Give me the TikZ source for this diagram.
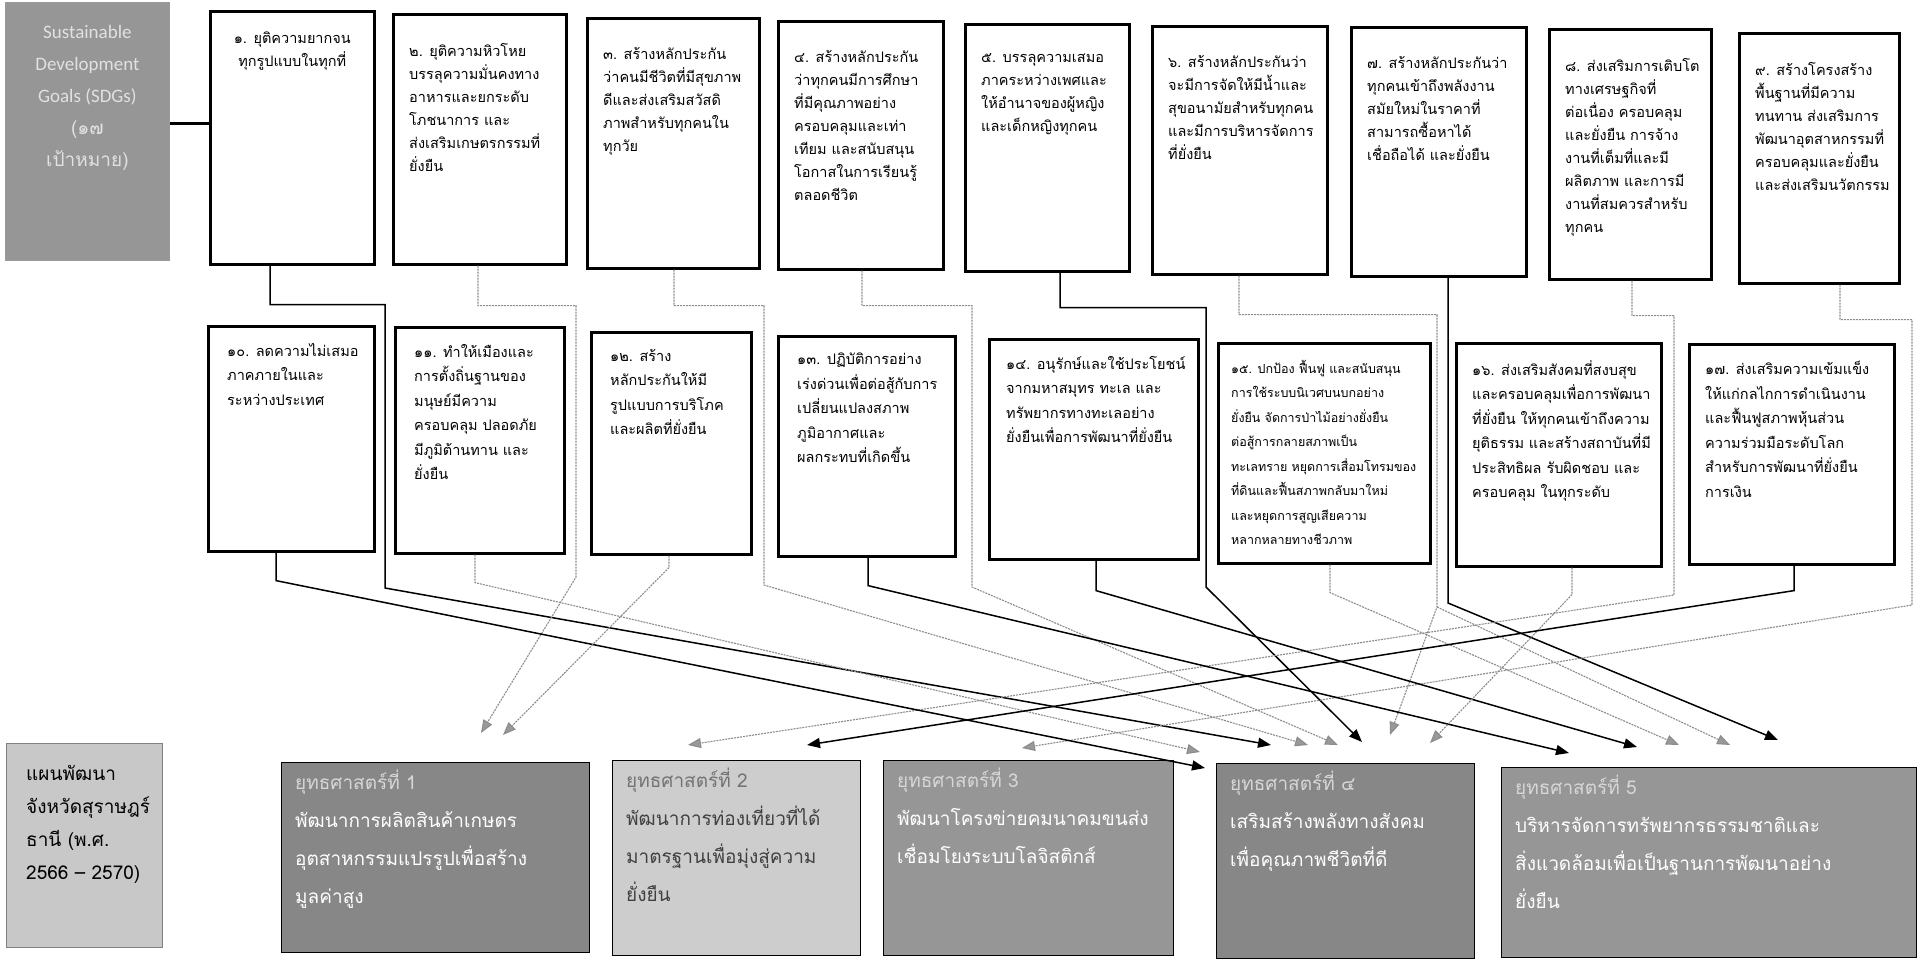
\documentclass[tikz,border=0pt]{standalone}
\usepackage{fontspec}
\newfontfamily\thai[Script=Thai]{Loma}
\newfontfamily\latn{Carlito}
\usetikzlibrary{arrows.meta,calc}
\definecolor{sdgfill}{RGB}{150,150,150}
\definecolor{sdgtext}{RGB}{225,225,225}
\definecolor{planfill}{RGB}{200,200,200}
\definecolor{sdark}{RGB}{135,135,135}
\definecolor{smid}{RGB}{150,150,150}
\definecolor{slight}{RGB}{205,205,205}
\definecolor{headlt}{RGB}{215,215,215}
\begin{document}
\begin{tikzpicture}[x=1pt,y=-1pt,
  goal/.style={draw=black, line width=2.6pt, fill=white, anchor=north west, inner sep=0pt},
  gtxt/.style={anchor=north west, inner sep=0pt, align=left, font=\thai\fontsize{14.5}{23}\selectfont},
  gtxtb/.style={anchor=north west, inner sep=0pt, align=left, font=\thai\fontsize{14.5}{24.5}\selectfont},
  strat/.style={draw=black, line width=1.2pt, anchor=north west, inner sep=0pt},
  stxt/.style={anchor=north west, inner sep=0pt, align=left, text=white, font=\thai\fontsize{19}{38}\selectfont},
  solidc/.style={line width=1.5pt, draw=black, -{Triangle[length=13pt,width=10pt]}},
  dotc/.style={line width=1.1pt, draw=black!45, dash pattern=on 2pt off 1pt, -{Triangle[length=13pt,width=10pt,fill=black!40]}}
]
\useasboundingbox (0,0) rectangle (1924,962);
\fill[white] (0,0) rectangle (1924,962);

% SDG title box
\node[draw=black!40, line width=0.8pt, fill=sdgfill, anchor=north west, minimum width=164pt, minimum height=258pt, inner sep=0pt] (sdg) at (5,2) {};
\node[align=center, text=sdgtext, inner sep=0pt, font=\latn\fontsize{19}{32}\selectfont] (sdgt) at ($(sdg.north)+(0,96)$) {Sustainable\\Development\\Goals (SDGs)\\{\thai (๑๗}\\{\thai เป้าหมาย)}};

% top row goal boxes
\node[goal, minimum width=164pt, minimum height=253pt] (b1) at (209,10) {};
\node[goal, minimum width=173pt, minimum height=250pt] (b2) at (392,13) {};
\node[goal, minimum width=172pt, minimum height=250pt] (b3) at (586,17) {};
\node[goal, minimum width=165pt, minimum height=248pt] (b4) at (777,20) {};
\node[goal, minimum width=164pt, minimum height=247pt] (b5) at (964,23) {};
\node[goal, minimum width=175pt, minimum height=248pt] (b6) at (1151,25) {};
\node[goal, minimum width=175pt, minimum height=249pt] (b7) at (1350,26) {};
\node[goal, minimum width=162pt, minimum height=250pt] (b8) at (1548,28) {};
\node[goal, minimum width=160pt, minimum height=250pt] (b9) at (1738,32) {};

\node[anchor=north, inner sep=0pt, align=center, font=\thai\fontsize{14.5}{23}\selectfont] (t1) at ($(b1.north)+(0,22)$) {๑. ยุติความยากจน\\ทุกรูปแบบในทุกที่};
\node[gtxt] (t2) at ($(b2.north west)+(17,30)$) {๒. ยุติความหิวโหย\\บรรลุความมั่นคงทาง\\อาหารและยกระดับ\\โภชนาการ และ\\ส่งเสริมเกษตรกรรมที่\\ยั่งยืน};
\node[gtxt] (t3) at ($(b3.north west)+(17,30)$) {๓. สร้างหลักประกัน\\ว่าคนมีชีวิตที่มีสุขภาพ\\ดีและส่งเสริมสวัสดิ\\ภาพสำหรับทุกคนใน\\ทุกวัย};
\node[gtxt] (t4) at ($(b4.north west)+(17,30)$) {๔. สร้างหลักประกัน\\ว่าทุกคนมีการศึกษา\\ที่มีคุณภาพอย่าง\\ครอบคลุมและเท่า\\เทียม และสนับสนุน\\โอกาสในการเรียนรู้\\ตลอดชีวิต};
\node[gtxt] (t5) at ($(b5.north west)+(17,30)$) {๕. บรรลุความเสมอ\\ภาคระหว่างเพศและ\\ให้อำนาจของผู้หญิง\\และเด็กหญิงทุกคน};
\node[gtxt] (t6) at ($(b6.north west)+(17,30)$) {๖. สร้างหลักประกันว่า\\จะมีการจัดให้มีน้ำและ\\สุขอนามัยสำหรับทุกคน\\และมีการบริหารจัดการ\\ที่ยั่งยืน};
\node[gtxt] (t7) at ($(b7.north west)+(17,30)$) {๗. สร้างหลักประกันว่า\\ทุกคนเข้าถึงพลังงาน\\สมัยใหม่ในราคาที่\\สามารถซื้อหาได้\\เชื่อถือได้ และยั่งยืน};
\node[gtxt] (t8) at ($(b8.north west)+(17,30)$) {๘. ส่งเสริมการเติบโต\\ทางเศรษฐกิจที่\\ต่อเนื่อง ครอบคลุม\\และยั่งยืน การจ้าง\\งานที่เต็มที่และมี\\ผลิตภาพ และการมี\\งานที่สมควรสำหรับ\\ทุกคน};
\node[gtxt] (t9) at ($(b9.north west)+(17,30)$) {๙. สร้างโครงสร้าง\\พื้นฐานที่มีความ\\ทนทาน ส่งเสริมการ\\พัฒนาอุตสาหกรรมที่\\ครอบคลุมและยั่งยืน\\และส่งเสริมนวัตกรรม};

% second row goal boxes
\node[goal, minimum width=166pt, minimum height=225pt] (b10) at (207,325) {};
\node[goal, minimum width=169pt, minimum height=226pt] (b11) at (394,326) {};
\node[goal, minimum width=160pt, minimum height=222pt] (b12) at (590,331) {};
\node[goal, minimum width=177pt, minimum height=220pt] (b13) at (777,335) {};
\node[goal, minimum width=209pt, minimum height=220pt] (b14) at (988,338) {};
\node[goal, minimum width=212pt, minimum height=220pt] (b15) at (1217,342) {};
\node[goal, minimum width=205pt, minimum height=223pt] (b16) at (1455,342) {};
\node[goal, minimum width=205pt, minimum height=220pt] (b17) at (1688,343) {};

\node[gtxtb] (t10) at ($(b10.north west)+(20,18)$) {๑๐. ลดความไม่เสมอ\\ภาคภายในและ\\ระหว่างประเทศ};
\node[gtxtb] (t11) at ($(b11.north west)+(20,18)$) {๑๑. ทำให้เมืองและ\\การตั้งถิ่นฐานของ\\มนุษย์มีความ\\ครอบคลุม ปลอดภัย\\มีภูมิต้านทาน และ\\ยั่งยืน};
\node[gtxtb] (t12) at ($(b12.north west)+(20,18)$) {๑๒. สร้าง\\หลักประกันให้มี\\รูปแบบการบริโภค\\และผลิตที่ยั่งยืน};
\node[gtxtb] (t13) at ($(b13.north west)+(20,18)$) {๑๓. ปฏิบัติการอย่าง\\เร่งด่วนเพื่อต่อสู้กับการ\\เปลี่ยนแปลงสภาพ\\ภูมิอากาศและ\\ผลกระทบที่เกิดขึ้น};
\node[gtxtb] (t14) at ($(b14.north west)+(18,18)$) {๑๔. อนุรักษ์และใช้ประโยชน์\\จากมหาสมุทร ทะเล และ\\ทรัพยากรทางทะเลอย่าง\\ยั่งยืนเพื่อการพัฒนาที่ยั่งยืน};
\node[anchor=north west, inner sep=0pt, align=left, font=\thai\fontsize{12.5}{24.5}\selectfont] (t15) at ($(b15.north west)+(14,18)$) {๑๕. ปกป้อง ฟื้นฟู และสนับสนุน\\การใช้ระบบนิเวศบนบกอย่าง\\ยั่งยืน จัดการป่าไม้อย่างยั่งยืน\\ต่อสู้การกลายสภาพเป็น\\ทะเลทราย หยุดการเสื่อมโทรมของ\\ที่ดินและฟื้นสภาพกลับมาใหม่\\และหยุดการสูญเสียความ\\หลากหลายทางชีวภาพ};
\node[gtxtb] (t16) at ($(b16.north west)+(17,18)$) {๑๖. ส่งเสริมสังคมที่สงบสุข\\และครอบคลุมเพื่อการพัฒนา\\ที่ยั่งยืน ให้ทุกคนเข้าถึงความ\\ยุติธรรม และสร้างสถาบันที่มี\\ประสิทธิผล รับผิดชอบ และ\\ครอบคลุม ในทุกระดับ};
\node[gtxtb] (t17) at ($(b17.north west)+(17,18)$) {๑๗. ส่งเสริมความเข้มแข็ง\\ให้แก่กลไกการดำเนินงาน\\และฟื้นฟูสภาพหุ้นส่วน\\ความร่วมมือระดับโลก\\สำหรับการพัฒนาที่ยั่งยืน\\การเงิน};

% bottom row
\node[draw=black!50, line width=0.8pt, fill=planfill, anchor=north west, minimum width=156pt, minimum height=204pt, inner sep=0pt] (plan) at (6,743) {};
\node[anchor=north west, inner sep=0pt, align=left, font=\thai\fontsize{19}{33}\selectfont] (plant) at ($(plan.north west)+(20,22)$) {แผนพัฒนา\\จังหวัดสุราษฎร์\\ธานี (พ.ศ.\\2566 – 2570)};

\node[strat, fill=sdark, minimum width=308pt, minimum height=190pt] (s1) at (281,762) {};
\node[strat, fill=slight, minimum width=248pt, minimum height=195pt] (s2) at (612,760) {};
\node[strat, fill=smid, minimum width=290pt, minimum height=195pt] (s3) at (883,760) {};
\node[strat, fill=sdark, minimum width=258pt, minimum height=195pt] (s4) at (1216,763) {};
\node[strat, fill=smid, minimum width=415pt, minimum height=190pt] (s5) at (1501,767) {};

\node[stxt] (st1) at ($(s1.north west)+(14,8)$) {{\color{headlt}ยุทธศาสตร์ที่ 1}\\พัฒนาการผลิตสินค้าเกษตร\\อุตสาหกรรมแปรรูปเพื่อสร้าง\\มูลค่าสูง};
\node[stxt, text=black!75] (st2) at ($(s2.north west)+(14,8)$) {{\color{black!55}ยุทธศาสตร์ที่ 2}\\พัฒนาการท่องเที่ยวที่ได้\\มาตรฐานเพื่อมุ่งสู่ความ\\ยั่งยืน};
\node[stxt] (st3) at ($(s3.north west)+(14,8)$) {{\color{headlt}ยุทธศาสตร์ที่ 3}\\พัฒนาโครงข่ายคมนาคมขนส่ง\\เชื่อมโยงระบบโลจิสติกส์};
\node[stxt] (st4) at ($(s4.north west)+(14,8)$) {{\color{headlt}ยุทธศาสตร์ที่ ๔}\\เสริมสร้างพลังทางสังคม\\เพื่อคุณภาพชีวิตที่ดี};
\node[stxt] (st5) at ($(s5.north west)+(14,8)$) {{\color{headlt}ยุทธศาสตร์ที่ 5}\\บริหารจัดการทรัพยากรธรรมชาติและ\\สิ่งแวดล้อมเพื่อเป็นฐานการพัฒนาอย่าง\\ยั่งยืน};

% SDG to goals
\draw[line width=3.2pt] ($(sdg.east)+(0,-8)$) -- ($(sdg.east -| b1.west)+(0,-8)$);

% connectors from top row
\draw[solidc] ($(b1.south west)+(61,0)$) -- ++(0,39) -| (385,588) -- ($(s4.north west)+(55,-18)$);
\draw[dotc] ($(b2.south west)+(86,0)$) -- ++(0,40) -| (576,577) -- ($(s1.north west)+(200,-29)$);
\draw[dotc] ($(b3.south west)+(88,0)$) -- ++(0,36) -| (764,585) -- ($(s4.north west)+(92,-18)$);
\draw[dotc] ($(b4.south west)+(85,0)$) -- ++(0,35) -| (972,587) -- ($(s4.north west)+(122,-18)$);
\draw[solidc] ($(b5.south west)+(96,0)$) -- ++(0,35) -| (1206,587) -- ($(s4.north west)+(146,-21)$);
\draw[dotc] ($(b6.south west)+(88,0)$) -- ++(0,39) -| (1437,607) -- ($(s4.north west)+(174,-28)$);
\draw[dotc] (1437,607) -- ($(s5.north west)+(229,-22)$);
\draw[solidc] ($(b7.south west)+(98,0)$) -- (1448,603) -- ($(s5.north west)+(277,-27)$);
\draw[dotc] ($(b8.south west)+(84,0)$) -- ++(0,35) -| (1674,595) -- ($(s2.north west)+(76,-15)$);
\draw[dotc] ($(b9.south west)+(102,0)$) -- ++(0,35) -| (1912,605) -- ($(s3.north west)+(139,-12)$);

% connectors from second row
\draw[solidc] ($(b10.south west)+(69,0)$) -- ++(0,28) -- ($(s4.north west)+(-11,5)$);
\draw[dotc] ($(b11.south west)+(81,0)$) -- ++(0,28) -- ($(s4.north west)+(-16,-11)$);
\draw[dotc] ($(b12.south west)+(79,0)$) -- ++(0,12) -- ($(s1.north west)+(222,-27)$);
\draw[solidc] ($(b13.south west)+(91,0)$) -- ++(0,28) -- ($(s5.north west)+(68,-14)$);
\draw[solidc] ($(b14.south west)+(108,0)$) -- ++(0,30) -- ($(s5.north west)+(136,-20)$);
\draw[dotc] ($(b15.south west)+(113,0)$) -- ++(0,28) -- ($(s5.north west)+(178,-22)$);
\draw[dotc] ($(b16.south west)+(117,0)$) -- ++(0,27) -- ($(s4.north west)+(214,-20)$);
\draw[solidc] ($(b17.south west)+(106,0)$) -- ++(0,25) -- ($(s2.north west)+(195,-15)$);
\end{tikzpicture}
\end{document}
